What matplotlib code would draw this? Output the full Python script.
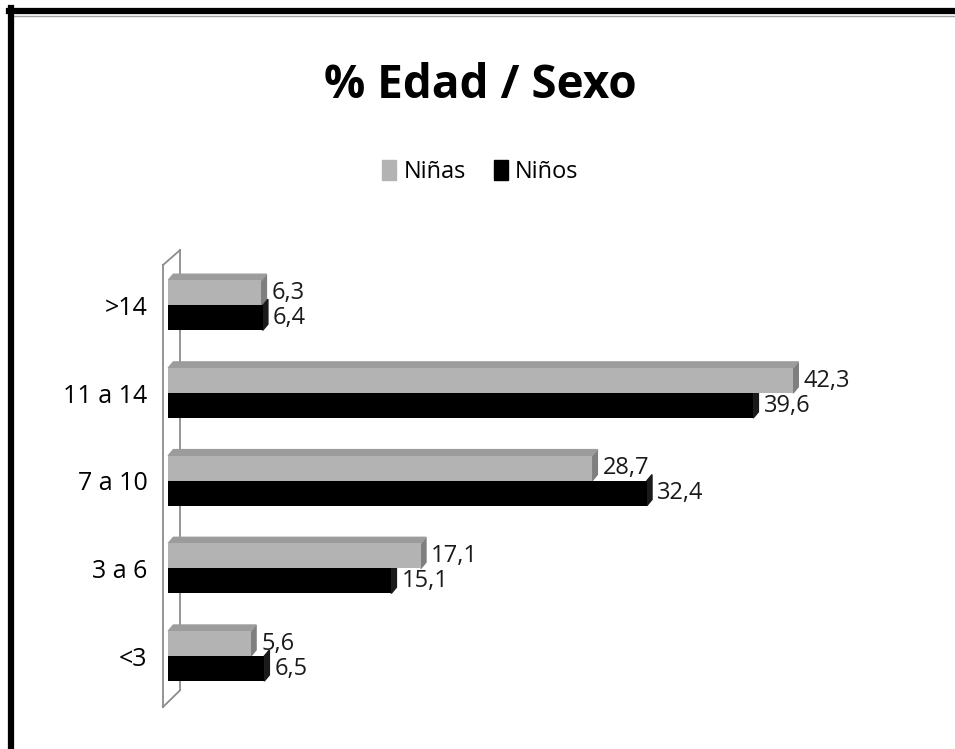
import matplotlib
matplotlib.use("Agg")
import matplotlib.pyplot as plt
from matplotlib.lines import Line2D
from matplotlib.patches import Patch, Polygon
import numpy as np

categorias = ["<3", "3 a 6", "7 a 10", "11 a 14", ">14"]
ninas = [5.6, 17.1, 28.7, 42.3, 6.3]
ninos = [6.5, 15.1, 32.4, 39.6, 6.4]
etiquetas_ninas = ["5,6", "17,1", "28,7", "42,3", "6,3"]
etiquetas_ninos = ["6,5", "15,1", "32,4", "39,6", "6,4"]

plt.rcParams["font.family"] = ["Open Sans", "DejaVu Sans"]

gris = "#b3b3b3"
gris_lado = "#7f7f7f"
gris_tope = "#9c9c9c"
negro = "#000000"

fig = plt.figure(figsize=(9.55, 7.49), dpi=100)
fig.patch.set_facecolor("white")
ax = fig.add_axes([163/955, 1-707/749, 670/955, 442/749])

y = np.arange(len(categorias))
h = 0.285
d, e = 0.35, 0.07  # profundidad del efecto 3d

ax.barh(y + h/2, ninas, height=h, color=gris, zorder=3)
ax.barh(y - h/2, ninos, height=h, color=negro, zorder=3)

for yi, v in zip(y + h/2, ninas):
    ax.add_patch(Polygon([(v, yi-h/2), (v+d, yi-h/2+e), (v+d, yi+h/2+e), (v, yi+h/2)],
                         color=gris_lado, zorder=2))
    ax.add_patch(Polygon([(0, yi+h/2), (d, yi+h/2+e), (v+d, yi+h/2+e), (v, yi+h/2)],
                         color=gris_tope, zorder=2))
for yi, v in zip(y - h/2, ninos):
    ax.add_patch(Polygon([(v, yi-h/2), (v+d, yi-h/2+e), (v+d, yi+h/2+e), (v, yi+h/2)],
                         color="#1a1a1a", zorder=2))

for yi, v, t in zip(y + h/2, ninas, etiquetas_ninas):
    ax.text(v + 0.7, yi, t, va="center", ha="left", fontsize=17, color="#1a1a1a")
for yi, v, t in zip(y - h/2, ninos, etiquetas_ninos):
    ax.text(v + 0.7, yi, t, va="center", ha="left", fontsize=17, color="#1a1a1a")

# pared lateral
x0 = -0.35
ax.set_xlim(x0, 45)
ax.set_ylim(-0.58, 4.46)
pared = dict(color="#8c8c8c", lw=1.3, zorder=1, clip_on=False)
ax.plot([x0, x0], [-0.58, 4.46], **pared)
ax.plot([0.8, 0.8], [-0.39, 4.63], **pared)
ax.plot([x0, 0.8], [-0.58, -0.39], **pared)
ax.plot([x0, 0.8], [4.46, 4.63], **pared)

ax.set_yticks(y)
ax.set_yticklabels(categorias, fontsize=18)
ax.tick_params(axis="y", length=0, pad=11)
ax.set_xticks([])
for s in ax.spines.values():
    s.set_visible(False)

fig.text(0.503, 1-85/749, "% Edad / Sexo", ha="center", va="center",
         fontsize=33, fontweight="bold")
fig.legend(handles=[Patch(color=gris, label="Niñas"), Patch(color=negro, label="Niños")],
           loc="center", bbox_to_anchor=(0.503, 1-172/749), ncol=2, frameon=False,
           fontsize=17, handlelength=0.6, handleheight=0.9, handletextpad=0.3,
           columnspacing=1.2)

# marco
fig.add_artist(Line2D([9/955, 1], [1-11/749, 1-11/749], color="black", lw=4.5))
fig.add_artist(Line2D([14/955, 1], [1-15.5/749, 1-15.5/749], color="#a0a0a0", lw=1))
fig.add_artist(Line2D([11/955, 11/955], [0, 1-8/749], color="black", lw=4.5))

fig.savefig("out.png", dpi=100)
